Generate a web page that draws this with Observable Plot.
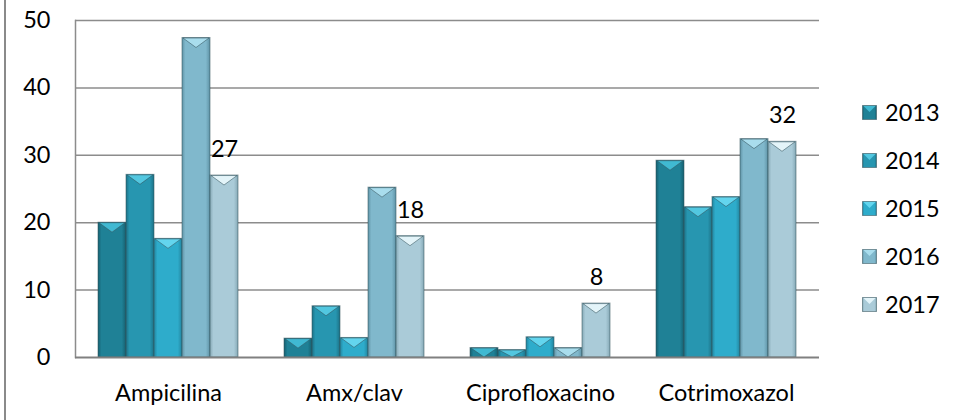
<!DOCTYPE html>
<html>
<head>
<meta charset="utf-8">
<script src="https://cdn.jsdelivr.net/npm/d3@7"></script>
<script src="https://cdn.jsdelivr.net/npm/@observablehq/plot@0.6"></script>
<style>
  html, body { margin: 0; padding: 0; background: #fff; }
  #wrap { position: relative; width: 954px; height: 420px; font-family: Lato, "Noto Sans", sans-serif; }
  #edge { position: absolute; left: 4px; top: 0; width: 2px; height: 420px; background: #8a8a8a; }
  #legend { position: absolute; left: 862px; top: 88px; }
  #legend .row { display: flex; align-items: center; height: 48px; font-size: 23.5px; color: #000; }
  #legend svg { margin-right: 8px; }
</style>
</head>
<body>
<div id="wrap">
  <div id="edge"></div>
  <div id="legend"></div>
</div>
<script>
// Resistance (%) by antibiotic and year
const drugs = ["Ampicilina", "Amx/clav", "Ciprofloxacino", "Cotrimoxazol"];
const years = ["2013", "2014", "2015", "2016", "2017"];
const v2013 = [20, 2.8, 1.4, 29.2];
const v2014 = [27.1, 7.6, 1.1, 22.3];
const v2015 = [17.6, 2.9, 3.0, 23.8];
const v2016 = [47.4, 25.2, 1.4, 32.4];
const v2017 = [27, 18, 8, 32];
const yTicks = [0, 10, 20, 30, 40, 50];

// bevelled bar palette: body, edge shade and top facet per year
const bodyColors  = ["#1f8196", "#2796b0", "#2eaccb", "#80b8cc", "#aacbd8"];
const edgeColors  = ["#155f6f", "#1c7186", "#22849e", "#5f93a6", "#86a9b6"];
const bevelColors = ["#40b9d2", "#52c7e0", "#63d5ee", "#a9dded", "#e3f4f9"];

const series = [v2013, v2014, v2015, v2016, v2017];
const rows = [];
years.forEach((year, k) => drugs.forEach((drug, j) => rows.push({drug, year, value: series[k][j]})));
const labelled = rows.filter(d => d.year === "2017");

const yearIndex = new Map(years.map((y, k) => [y, k]));

// gradient definitions shared by the bars and the legend swatches
const defsSvg = d3.select("body").append("svg")
  .attr("width", 0).attr("height", 0)
  .style("position", "absolute");
const defs = defsSvg.append("defs");
years.forEach((y, k) => {
  const g = defs.append("linearGradient").attr("id", `bar-${y}`).attr("x1", 0).attr("x2", 1).attr("y1", 0).attr("y2", 0);
  g.append("stop").attr("offset", "0%").attr("stop-color", edgeColors[k]);
  g.append("stop").attr("offset", "12%").attr("stop-color", bodyColors[k]);
  g.append("stop").attr("offset", "85%").attr("stop-color", bodyColors[k]);
  g.append("stop").attr("offset", "100%").attr("stop-color", edgeColors[k]);
});

// light top facet drawn on each bar
function bevel(index, scales, values, dimensions, context, next) {
  const g = next(index, scales, values, dimensions, context);
  const rects = Array.from(g.querySelectorAll("rect"));
  rects.forEach((r, j) => {
    const i = index[j];
    const x = +r.getAttribute("x"), y = +r.getAttribute("y");
    const w = +r.getAttribute("width"), h = +r.getAttribute("height");
    const d = Math.min(10, h);
    const k = yearIndex.get(rows[i].year);
    const p = document.createElementNS("http://www.w3.org/2000/svg", "polygon");
    p.setAttribute("points", `${x + 1},${y + 0.5} ${x + w - 1},${y + 0.5} ${x + w / 2},${y + d}`);
    p.setAttribute("fill", bevelColors[k]);
    g.appendChild(p);
  });
  return g;
}

const chart = Plot.plot({
  width: 954,
  height: 420,
  marginLeft: 73,
  marginRight: 134,
  marginTop: 20,
  marginBottom: 63,
  style: {fontFamily: "Lato, 'Noto Sans', sans-serif", fontSize: "23.5px", color: "#000", background: "transparent"},
  fx: {domain: drugs, padding: 0, label: null, tickSize: 0, tickPadding: 27},
  x: {domain: years, paddingInner: 0, paddingOuter: 0.79, axis: null},
  y: {domain: [0, 50], ticks: yTicks, tickSize: 0, tickPadding: 25, label: null},
  color: {domain: years, range: years.map(y => `url(#bar-${y})`)},
  marks: [
    Plot.gridY(yTicks.slice(1), {stroke: "#8c8c8c", strokeOpacity: 1, strokeWidth: 1.5}),
    Plot.frame({anchor: "left", facetAnchor: "left", stroke: "#8c8c8c", strokeWidth: 1.5}),
    Plot.barY(rows, {
      fx: "drug", x: "year", y: "value", fill: "year",
      stroke: "#35545c", strokeOpacity: 0.55, strokeWidth: 1, inset: 0,
      render: bevel
    }),
    Plot.ruleY([0], {stroke: "#808080", strokeWidth: 2}),
    Plot.text(labelled, {
      fx: "drug", x: "year", y: "value", text: d => String(d.value),
      dy: -26, lineAnchor: "middle", fill: "#000"
    })
  ]
});

document.getElementById("wrap").appendChild(chart);
chart.style.position = "absolute";
chart.style.left = "0";
chart.style.top = "0";

// legend
const legend = d3.select("#legend");
years.forEach((y, k) => {
  const row = legend.append("div").attr("class", "row");
  const sw = row.append("svg").attr("width", 15).attr("height", 15);
  sw.append("rect").attr("x", 0.5).attr("y", 0.5).attr("width", 14).attr("height", 14)
    .attr("fill", `url(#bar-${y})`).attr("stroke", "#35545c").attr("stroke-opacity", 0.55);
  sw.append("polygon").attr("points", "1.5,1 13.5,1 7.5,7").attr("fill", bevelColors[k]);
  row.append("span").text(y);
});
</script>
</body>
</html>
